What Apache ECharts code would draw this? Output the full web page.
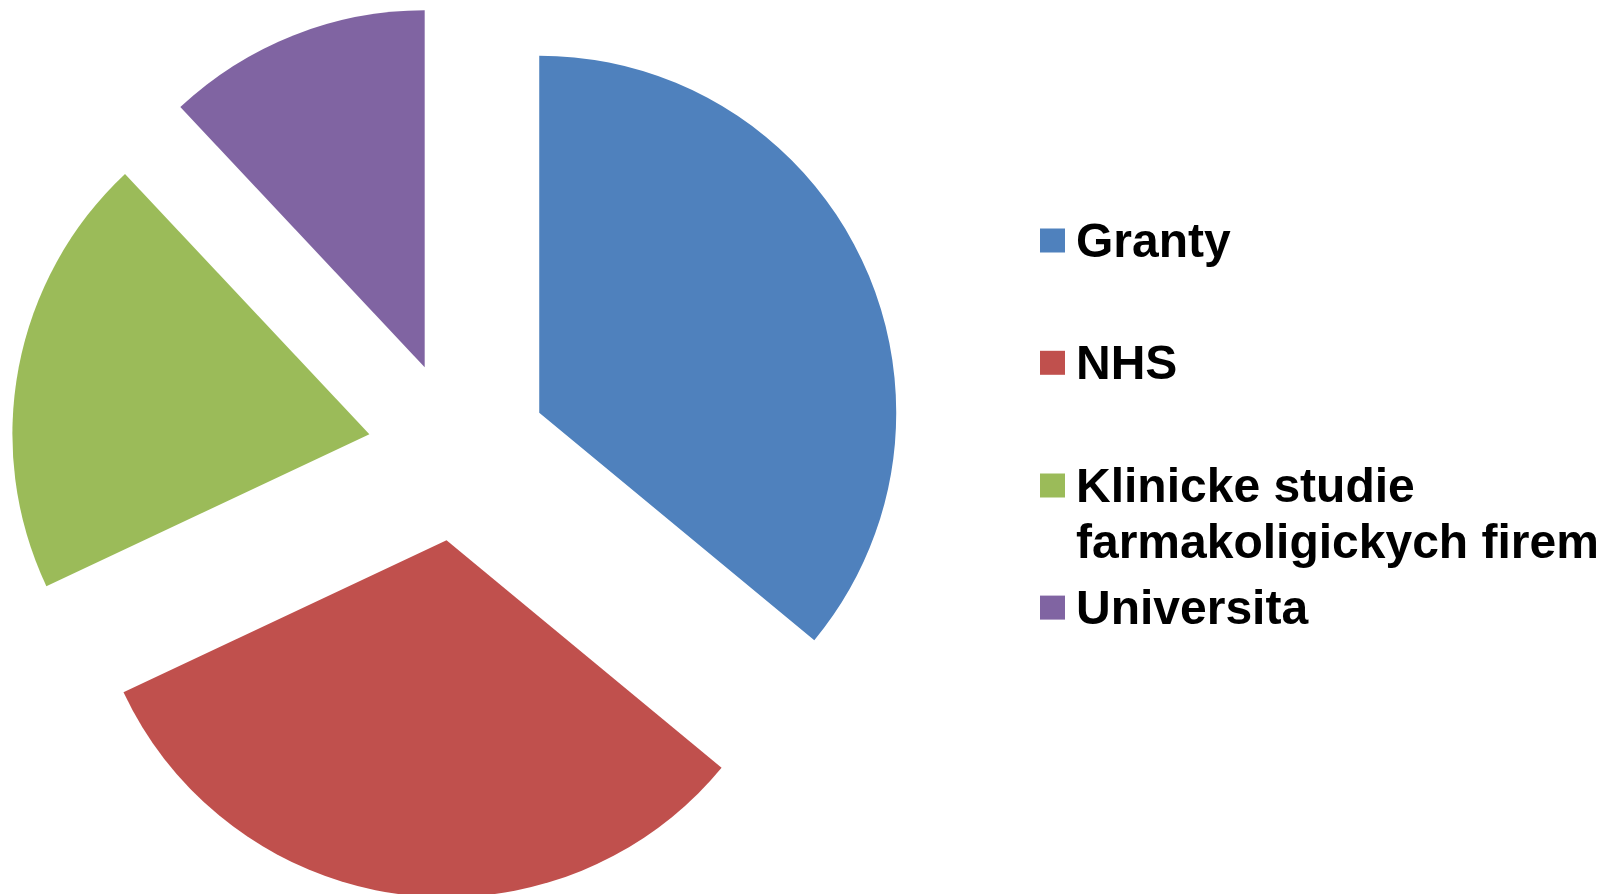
<!DOCTYPE html>
<html><head><meta charset="utf-8">
<script src="https://cdn.jsdelivr.net/npm/echarts@6/dist/echarts.min.js"></script>
<style>html,body{margin:0;padding:0;background:#fff}#c{width:1601px;height:894px}</style>
</head><body><div id="c"></div>
<script>
const categories = ['Granty', 'NHS', 'Klinicke studie farmakoligickych firem', 'Universita'];
const values = [36, 32, 20, 12];
const legendLines = [['Granty'], ['NHS'], ['Klinicke studie', 'farmakoligickych firem'], ['Universita']];
const colors = ['#4F81BD', '#C0504D', '#9BBB59', '#8064A2'];

const FONT = "'Liberation Sans', Arial, sans-serif";
const LH = 56;
const SHIFT = 3;
const iconCenters = [240.5, 362.8, 485.5, 607.6];

const legends = categories.map((name, i) => {
  const lines = legendLines[i];
  // spacer line above so that the first text line sits level with the icon
  const spacerH = (lines.length - 1) * LH + 2 * SHIFT;
  const total = spacerH + lines.length * LH;
  const text = '{s| }\n' + lines.map(l => '{t|' + l + '}').join('\n');
  return {
    data: [name],
    orient: 'vertical',
    left: 1040,
    top: iconCenters[i] - total / 2,
    padding: 0,
    itemWidth: 25,
    itemHeight: 24,
    icon: 'rect',
    selectedMode: false,
    formatter: () => text,
    textStyle: {
      fontFamily: FONT,
      fontWeight: 'bold',
      fontSize: 48,
      color: '#000',
      rich: {
        s: {fontSize: 1, lineHeight: spacerH, height: spacerH},
        t: {fontFamily: FONT, fontWeight: 'bold', fontSize: 48, lineHeight: LH, color: '#000', padding: [0, 0, 0, 6]}
      }
    }
  };
});

const chart = echarts.init(document.getElementById('c'), null, {renderer: 'canvas'});
chart.setOption({
  animation: false,
  color: colors,
  legend: legends,
  series: [{
    type: 'pie',
    center: [457.8, 451],
    radius: 357,
    startAngle: 90,
    clockwise: true,
    selectedMode: 'multiple',
    selectedOffset: 90,
    label: {show: false},
    labelLine: {show: false},
    emphasis: {disabled: true},
    itemStyle: {borderWidth: 0},
    data: categories.map((name, i) => ({name, value: values[i], selected: true}))
  }]
});
</script></body></html>
